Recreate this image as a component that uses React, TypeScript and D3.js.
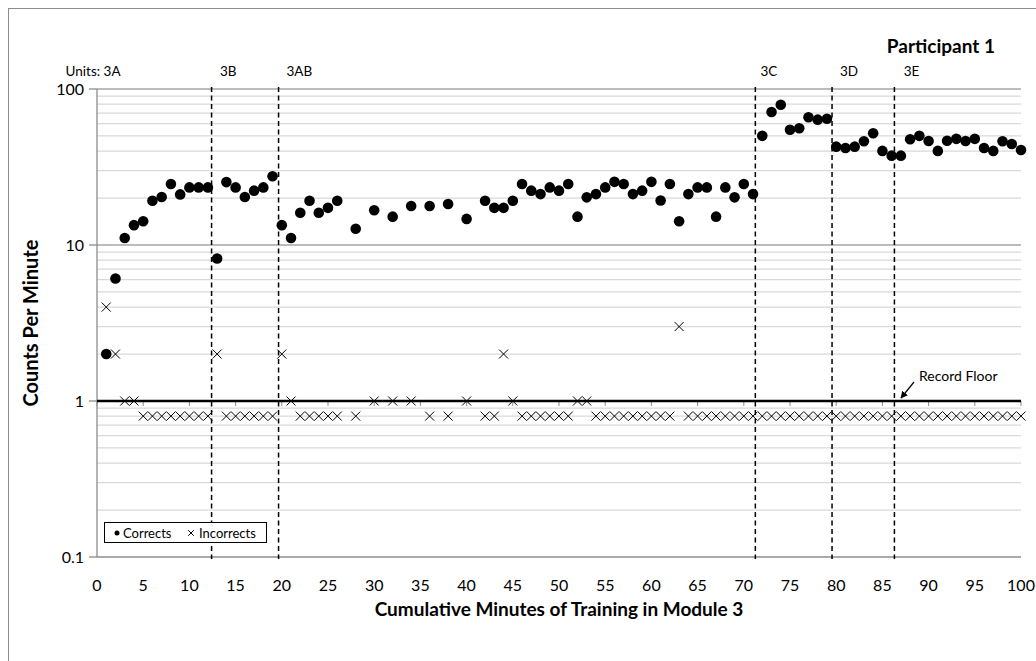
import React from "react";
import * as d3 from "d3";

const minutes = [1,2,3,4,5,6,7,8,9,10,11,12,13,14,15,16,17,18,19,20,21,22,23,24,25,26,28,30,32,34,36,38,40,42,43,44,45,46,47,48,49,50,51,52,53,54,55,56,57,58,59,60,61,62,63,64,65,66,67,68,69,70,71,72,73,74,75,76,77,78,79,80,81,82,83,84,85,86,87,88,89,90,91,92,93,94,95,96,97,98,99,100];
const corrects = [2,6.1,11.1,13.4,14.2,19.2,20.3,24.6,21.1,23.4,23.4,23.4,8.2,25.3,23.4,20.3,22.3,23.4,27.6,13.4,11.1,16.1,19.2,16.1,17.3,19.2,12.7,16.7,15.2,17.8,17.8,18.3,14.7,19.2,17.3,17.3,19.2,24.6,22.3,21.2,23.4,22.3,24.6,15.2,20.2,21.2,23.4,25.4,24.6,21.2,22.3,25.4,19.3,24.6,14.2,21.2,23.4,23.4,15.2,23.4,20.2,24.6,21.2,50.1,71.2,79.3,54.8,56,65.9,63.6,64.5,42.7,41.9,42.7,46.2,52,40.1,37.4,37.4,47.6,50.1,46.4,40.1,46.6,47.9,46.4,47.9,41.9,40.1,46.2,44.4,40.6];
const incorrects = [4,2,1,1,0,0,0,0,0,0,0,0,2,0,0,0,0,0,0,2,1,0,0,0,0,0,0,1,1,1,0,0,1,0,0,2,1,0,0,0,0,0,0,1,1,0,0,0,0,0,0,0,0,0,3,0,0,0,0,0,0,0,0,0,0,0,0,0,0,0,0,0,0,0,0,0,0,0,0,0,0,0,0,0,0,0,0,0,0,0,0,0];
const ZERO_PLOT = 0.8;
const phaseLines = [12.4, 19.65, 71.25, 79.55, 86.3];
const phaseLabels = ["Units: 3A", "3B", "3AB", "3C", "3D", "3E"];
const phaseLabelX = [-3.4, 13.3, 20.5, 71.8, 80.4, 87.3];
const xTicks = d3.range(0, 101, 5);
const yTicks = [0.1, 1, 10, 100];
const RECORD_FLOOR = 1;

const W = 1036, H = 661;
const FONT = "Lato, 'Open Sans', sans-serif";

export default function App() {
  const x = d3.scaleLinear().domain([0, 100]).range([97, 1021]);
  const y = d3.scaleLog().domain([0.1, 100]).range([557, 89]);
  const x0 = x(0), x1 = x(100);

  const minor: number[] = [];
  [0.1, 1, 10].forEach((d) => {
    for (let k = 2; k <= 9; k++) minor.push(d * k);
  });

  const cross = (cx: number, cy: number, r: number, key: string) => (
    <path key={key} d={`M${cx - r},${cy - r}L${cx + r},${cy + r}M${cx - r},${cy + r}L${cx + r},${cy - r}`} stroke="#000" strokeWidth={1} fill="none" />
  );

  return (
    <svg width={W} height={H} style={{ position: "absolute", left: 0, top: 0 }} fontFamily={FONT}>
      <rect x={0} y={0} width={W} height={H} fill="#fff" />
      <rect x={8.5} y={8.5} width={W + 20} height={H + 20} fill="none" stroke="#8c8c8c" strokeWidth={1} />

      {minor.map((v, i) => (
        <line key={"mn" + i} x1={x0} x2={x1} y1={y(v)} y2={y(v)} stroke="#d9d9d9" strokeWidth={1.3} />
      ))}
      {[10, 100].map((v, i) => (
        <line key={"mj" + i} x1={x0} x2={x1} y1={y(v)} y2={y(v)} stroke="#a6a6a6" strokeWidth={1.3} />
      ))}
      <line x1={x0} x2={x1} y1={y(0.1)} y2={y(0.1)} stroke="#8c8c8c" strokeWidth={1.3} />
      <line x1={x0} x2={x0} y1={y(100)} y2={y(0.1)} stroke="#8c8c8c" strokeWidth={1.3} />
      {yTicks.map((v, i) => (
        <g key={"yt" + i}>
          <line x1={x0 - 8} x2={x0} y1={y(v)} y2={y(v)} stroke="#8c8c8c" strokeWidth={1.3} />
          <text x={x0 - 13} y={y(v)} dy="0.35em" textAnchor="end" fontSize={16} fill="#000">{v}</text>
        </g>
      ))}
      {xTicks.map((v, i) => (
        <g key={"xt" + i}>
          <line x1={x(v)} x2={x(v)} y1={y(RECORD_FLOOR)} y2={y(RECORD_FLOOR) + 5} stroke="#8c8c8c" strokeWidth={1} />
          <text x={x(v)} y={591} textAnchor="middle" fontSize={16} fill="#000">{v}</text>
        </g>
      ))}

      <line x1={x0} x2={x1} y1={y(RECORD_FLOOR)} y2={y(RECORD_FLOOR)} stroke="#000" strokeWidth={2.5} />

      {phaseLines.map((v, i) => (
        <line key={"pl" + i} x1={x(v)} x2={x(v)} y1={y(100) - 2} y2={y(0.1) + 2} stroke="#000" strokeWidth={1.5} strokeDasharray="5,3.5" />
      ))}
      {phaseLabels.map((t, i) => (
        <text key={"plb" + i} x={x(phaseLabelX[i])} y={76} fontSize={13.5} fill="#000">{t}</text>
      ))}

      {minutes.map((m, i) => (
        <circle key={"c" + i} cx={x(m)} cy={y(corrects[i])} r={5.3} fill="#000" />
      ))}
      {minutes.map((m, i) => cross(x(m), y(incorrects[i] === 0 ? ZERO_PLOT : incorrects[i]), 4.5, "i" + i))}

      <text x={995} y={53} textAnchor="end" fontSize={19} fontWeight="bold" fill="#000">Participant 1</text>

      <text x={919} y={381} fontSize={14} fill="#000">Record Floor</text>
      <defs>
        <marker id="ah" viewBox="0 0 10 10" refX={9} refY={5} markerWidth={6} markerHeight={6} orient="auto">
          <path d="M0,0L10,5L0,10z" fill="#000" />
        </marker>
      </defs>
      <line x1={914} y1={382} x2={901} y2={398} stroke="#000" strokeWidth={1.2} markerEnd="url(#ah)" />

      <rect x={104.5} y={522.5} width={162} height={20} fill="#fff" stroke="#000" strokeWidth={1} />
      <circle cx={117} cy={533} r={2.5} fill="#000" />
      <text x={123} y={537.5} fontSize={13} fill="#000">Corrects</text>
      {cross(191, 533, 2.8, "lg")}
      <text x={199} y={537.5} fontSize={13} fill="#000">Incorrects</text>

      <text x={559} y={616} textAnchor="middle" fontSize={19} fontWeight="bold" fill="#000">Cumulative Minutes of Training in Module 3</text>
      <text transform={`translate(38,${y(3.16)}) rotate(-90)`} textAnchor="middle" fontSize={20} fontWeight="bold" fill="#000">Counts Per Minute</text>
    </svg>
  );
}
